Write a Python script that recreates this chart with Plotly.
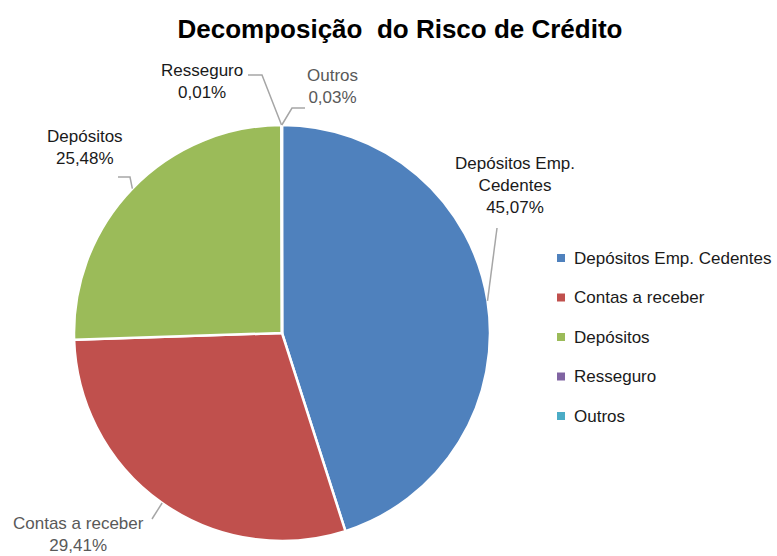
import math
import plotly.graph_objects as go

# ---------------- data ----------------
categories = ["Depósitos Emp. Cedentes", "Contas a receber", "Depósitos", "Resseguro", "Outros"]
values = [45.07, 29.41, 25.48, 0.01, 0.03]
display_names = ["Depósitos Emp.<br>Cedentes", "Contas a receber", "Depósitos", "Resseguro", "Outros"]
colors = ["#4F81BD", "#C0504D", "#9BBB59", "#8064A2", "#4BACC6"]
title_text = "Decomposição\u00a0 do Risco de Crédito"

# ---------------- layout settings (pixels) ----------------
W, H = 777, 556
CX, CY, R = 282, 333, 208
FONT = "Liberation Sans, Arial, sans-serif"
FS = 17

# label centre, leader start, elbow (None = straight) for each slice
label_cfg = [
    dict(pos=(515, 186), start=(497, 228), elbow=None, color="#1a1a1a"),
    dict(pos=(78, 534), start=(152, 519), elbow=None, color="#595959"),
    dict(pos=(85, 147), start=(118, 177), elbow=(130, 177), color="#1a1a1a"),
    dict(pos=(202, 82), start=(248, 75), elbow=(262, 75), color="#1a1a1a"),
    dict(pos=(332, 86), start=(305, 108), elbow=(292, 108), color="#595959"),
]


def px(x):
    return x / W


def py(y):
    return 1 - y / H


def fmt(v):
    return f"{v:.2f}".replace(".", ",") + "%"


total = sum(values)

fig = go.Figure()
fig.add_trace(go.Pie(
    labels=categories,
    values=values,
    sort=False,
    direction="clockwise",
    rotation=0,
    marker=dict(colors=colors, line=dict(color="white", width=2.5)),
    textinfo="none",
    hoverinfo="label+percent",
    showlegend=False,
    domain=dict(x=[px(CX - R), px(CX + R)], y=[py(CY + R), py(CY - R)]),
))

shapes = []
annotations = []

# slice labels with leader lines, edge points computed from the data
cum = 0.0
for v, name, cfg in zip(values, display_names, label_cfg):
    mid = (cum + v / 2) / total
    cum += v
    theta = 2 * math.pi * mid
    ex = CX + R * math.sin(theta)
    ey = CY - R * math.cos(theta)
    pts = [cfg["start"]]
    if cfg["elbow"] is not None:
        pts.append(cfg["elbow"])
    pts.append((ex, ey))
    path = "M " + " L ".join(f"{px(a):.5f},{py(b):.5f}" for a, b in pts)
    shapes.append(dict(type="path", path=path, xref="paper", yref="paper",
                       line=dict(color="#A6A6A6", width=1.5)))
    annotations.append(dict(
        x=px(cfg["pos"][0]), y=py(cfg["pos"][1]), xref="paper", yref="paper",
        text=f"{name}<br>{fmt(v)}", showarrow=False, align="center",
        xanchor="center", yanchor="middle",
        font=dict(family=FONT, size=FS, color=cfg["color"]),
    ))

# manual legend
LEG_X, LEG_Y0, LEG_DY = 561, 258, 39.5
for i, (name, col) in enumerate(zip(categories, colors)):
    yy = LEG_Y0 + i * LEG_DY
    shapes.append(dict(type="rect", xref="paper", yref="paper",
                       x0=px(LEG_X - 4), x1=px(LEG_X + 4),
                       y0=py(yy + 4), y1=py(yy - 4),
                       fillcolor=col, line=dict(width=0)))
    annotations.append(dict(
        x=px(LEG_X + 11), y=py(yy), xref="paper", yref="paper",
        text=name, showarrow=False, xanchor="left", yanchor="middle",
        font=dict(family=FONT, size=FS, color="#1a1a1a"),
    ))

fig.update_layout(
    width=W, height=H,
    margin=dict(l=0, r=0, t=0, b=0),
    paper_bgcolor="white", plot_bgcolor="white",
    title=dict(text=f"<b>{title_text}</b>", x=px(400), xanchor="center",
               y=py(29), yanchor="middle",
               font=dict(family=FONT, size=26, color="#000000")),
    shapes=shapes, annotations=annotations,
)

fig.write_html(
    "out.html",
    config={"displayModeBar": False},
    post_script="document.body.style.margin='0';document.body.style.overflow='hidden';",
)
